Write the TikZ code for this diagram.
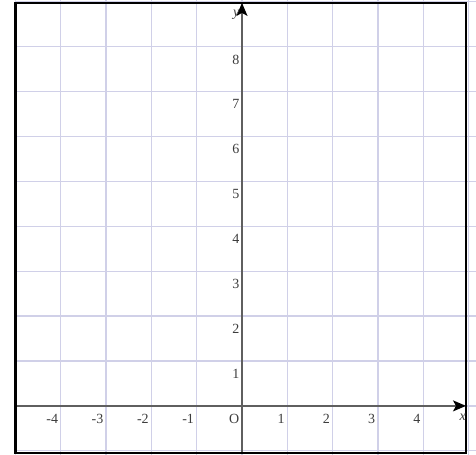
\documentclass[tikz,border=0pt]{standalone}
\usepackage{fontspec}
\setmainfont{Liberation Serif}
\usetikzlibrary{arrows.meta}
\definecolor{gridc}{RGB}{208,208,232}
\definecolor{axisc}{RGB}{95,95,95}
\definecolor{labc}{RGB}{60,60,60}
\begin{document}
\begin{tikzpicture}[x=45.3pt,y=44.9pt,
  gridline/.style={draw=gridc,line width=1.3pt},
  axisline/.style={draw=axisc,line width=1.5pt,-{Stealth[length=13pt,width=11pt,inset=3pt,color=black]}},
  frameline/.style={draw=black,line width=2.6pt},
  lab/.style={text=labc,font=\fontsize{14}{14}\selectfont,anchor=north east,inner sep=2.5pt,yshift=-5.5pt}]
\useasboundingbox (-5.342,-1.09) rectangle (5.166,9.04);
\begin{scope}
\clip (-5,-1.09) rectangle (5.166,9.04);
\foreach \i in {-5,...,5} \draw[gridline] (\i,-1.2) -- (\i,9.2);
\foreach \j in {-1,...,9} \draw[gridline] (-5.2,\j) -- (5.3,\j);
\end{scope}
\coordinate (xs) at (-5,0);
\coordinate (xe) at (4.945,0);
\coordinate (ys) at (0,-1.047);
\coordinate (ye) at (0,8.975);
\draw[axisline] (xs) -- (xe);
\draw[axisline] (ys) -- (ye);
\draw[frameline] (-5,-1.047) rectangle (4.945,8.975);
\foreach \i in {-4,-3,-2,-1,1,2,3,4} \node[lab] (xl\i) at (\i,0) {\i};
\foreach \j in {1,...,8} \node[lab] (yl\j) at (0,\j) {\j};
\node[lab] (o) at (0,0) {O};
\node[lab,font=\fontsize{14}{14}\selectfont\itshape] (xn) at (5,0) {x};
\node[lab,font=\fontsize{14}{14}\selectfont\itshape] (yn) at (0,9) {y};
\end{tikzpicture}
\end{document}
